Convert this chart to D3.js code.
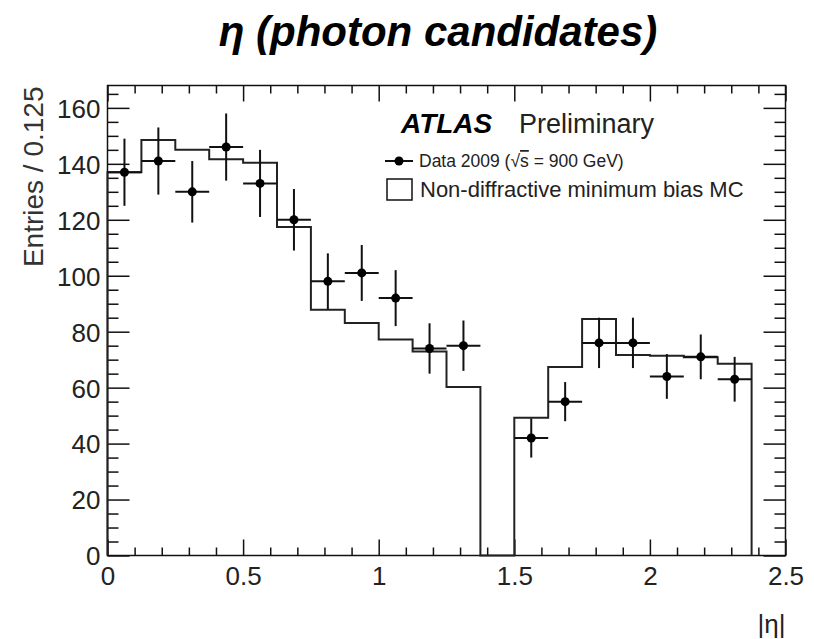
<!DOCTYPE html>
<html>
<head>
<meta charset="utf-8">
<script src="https://cdn.jsdelivr.net/npm/d3@7"></script>
<style>
  body { margin: 0; background: #fff; }
  svg { display: block; font-family: "Liberation Sans", Arial, sans-serif; }
  .axis path { display: none; }
  .axis line { stroke: #111; stroke-width: 1.5; }
  .axis text { fill: #222; font-size: 26px; }
</style>
</head>
<body>
<div id="chart"></div>
<script>
// lower edges of the |eta| bins (width 0.125)
const binLow = [0, 0.125, 0.25, 0.375, 0.5, 0.625, 0.75, 0.875, 1.0, 1.125,
  1.25, 1.375, 1.5, 1.625, 1.75, 1.875, 2.0, 2.125, 2.25];
const binWidth = 0.125;

// Data 2009 (null = crack region, no entries)
const dataCounts = [137, 141, 130, 146, 133, 120, 98, 101, 92, 74,
  75, null, 42, 55, 76, 76, 64, 71, 63];
const dataErrors = [12, 12, 11, 12, 12, 11, 10, 10, 10, 9,
  9, null, 7, 7, 9, 9, 8, 8, 8];

// Non-diffractive minimum bias MC
const mcCounts = [137, 148.5, 145, 141.6, 140.4, 117.4, 87.8, 83.1, 77.2, 72.9,
  60.2, 0, 49.2, 67.4, 84.5, 71.7, 71.4, 70.9, 68.5];

const yTicks = [0, 20, 40, 60, 80, 100, 120, 140, 160];
const xTicks = [0, 0.5, 1, 1.5, 2, 2.5];
const xTickLabels = ['0', '0.5', '1', '1.5', '2', '2.5'];

const width = 814;
const height = 639;
const frame = { left: 107.5, right: 785.5, top: 85.5, bottom: 555.5 };

const svg = d3.select('#chart').append('svg')
    .attr('width', width)
    .attr('height', height);

const x = d3.scaleLinear().domain([0, 2.5]).range([frame.left, frame.right]);
const y = d3.scaleLinear().domain([0, 168]).range([frame.bottom, frame.top]);

// minor tick positions
const yMinor = d3.range(0, 168, 5).filter((v) => v % 20 !== 0);
const xMinor = d3.range(0, 2.5001, 0.1).map((v) => +v.toFixed(2)).filter((v) => !xTicks.includes(v));

// AXES (ticks drawn inward, mirrored on top/right like ROOT)
const leftMajor = svg.append('g').attr('class', 'axis')
    .attr('transform', `translate(${frame.left},0)`)
    .call(d3.axisLeft(y).tickValues(yTicks).tickSize(-22).tickPadding(7).tickFormat(d3.format('d')));
leftMajor.selectAll('text').attr('dy', '0.36em');

svg.append('g').attr('class', 'axis')
    .attr('transform', `translate(${frame.left},0)`)
    .call(d3.axisLeft(y).tickValues(yMinor).tickSize(-11).tickFormat(''));

svg.append('g').attr('class', 'axis')
    .attr('transform', `translate(${frame.right},0)`)
    .call(d3.axisRight(y).tickValues(yTicks).tickSize(-22).tickFormat(''));
svg.append('g').attr('class', 'axis')
    .attr('transform', `translate(${frame.right},0)`)
    .call(d3.axisRight(y).tickValues(yMinor).tickSize(-11).tickFormat(''));

const bottomMajor = svg.append('g').attr('class', 'axis')
    .attr('transform', `translate(0,${frame.bottom})`)
    .call(d3.axisBottom(x).tickValues(xTicks).tickSize(-16).tickPadding(6)
      .tickFormat((d, i) => xTickLabels[i]));
bottomMajor.selectAll('text').attr('dy', '0.9em');

svg.append('g').attr('class', 'axis')
    .attr('transform', `translate(0,${frame.bottom})`)
    .call(d3.axisBottom(x).tickValues(xMinor).tickSize(-8).tickFormat(''));

svg.append('g').attr('class', 'axis')
    .attr('transform', `translate(0,${frame.top})`)
    .call(d3.axisTop(x).tickValues(xTicks).tickSize(-16).tickFormat(''));
svg.append('g').attr('class', 'axis')
    .attr('transform', `translate(0,${frame.top})`)
    .call(d3.axisTop(x).tickValues(xMinor).tickSize(-8).tickFormat(''));

// frame
svg.append('rect')
    .attr('x', frame.left).attr('y', frame.top)
    .attr('width', frame.right - frame.left)
    .attr('height', frame.bottom - frame.top)
    .attr('fill', 'none')
    .attr('stroke', '#111')
    .attr('stroke-width', 1.5);

// MC histogram as a step outline
const mcPoints = [[0, 0]];
mcCounts.forEach((v, i) => mcPoints.push([binLow[i], v]));
const lastEdge = binLow[binLow.length - 1] + binWidth;
mcPoints.push([lastEdge, mcCounts[mcCounts.length - 1]]);
mcPoints.push([lastEdge, 0]);

const step = d3.line()
    .x((d) => x(d[0]))
    .y((d) => y(d[1]))
    .curve(d3.curveStepAfter);

svg.append('path')
    .attr('d', step(mcPoints))
    .attr('fill', 'none')
    .attr('stroke', '#222')
    .attr('stroke-width', 2);

// data points with error bars
const pts = binLow.map((lo, i) => ({ lo, v: dataCounts[i], e: dataErrors[i] }))
    .filter((d) => d.v !== null);

const pg = svg.append('g').attr('class', 'data');
pg.selectAll('line.h').data(pts).enter().append('line')
    .attr('x1', (d) => x(d.lo)).attr('x2', (d) => x(d.lo + binWidth))
    .attr('y1', (d) => y(d.v)).attr('y2', (d) => y(d.v))
    .attr('stroke', '#111').attr('stroke-width', 2);
pg.selectAll('line.v').data(pts).enter().append('line')
    .attr('x1', (d) => x(d.lo + binWidth / 2)).attr('x2', (d) => x(d.lo + binWidth / 2))
    .attr('y1', (d) => y(d.v - d.e)).attr('y2', (d) => y(d.v + d.e))
    .attr('stroke', '#111').attr('stroke-width', 2);
pg.selectAll('circle').data(pts).enter().append('circle')
    .attr('cx', (d) => x(d.lo + binWidth / 2))
    .attr('cy', (d) => y(d.v))
    .attr('r', 4.5)
    .attr('fill', '#000');

// title and axis labels
svg.append('text')
    .attr('x', 438).attr('y', 46)
    .attr('text-anchor', 'middle')
    .style('font-size', '42px').style('font-weight', 'bold').style('font-style', 'italic')
    .text('η (photon candidates)');

svg.append('text')
    .attr('transform', `translate(43,${frame.top + 1}) rotate(-90)`)
    .attr('text-anchor', 'end')
    .style('font-size', '28px').style('fill', '#333')
    .text('Entries / 0.125');

svg.append('text')
    .attr('x', frame.right).attr('y', 633)
    .attr('text-anchor', 'end')
    .style('font-size', '26px').style('fill', '#222')
    .text('|η|');

// legend
const lg = svg.append('g').attr('class', 'legend');
lg.append('text')
    .attr('x', 401).attr('y', 133)
    .style('font-size', '28px').style('font-weight', 'bold').style('font-style', 'italic')
    .text('ATLAS');
lg.append('text')
    .attr('x', 519).attr('y', 133)
    .style('font-size', '27px').style('fill', '#222')
    .text('Preliminary');

lg.append('line')
    .attr('x1', 385).attr('x2', 413).attr('y1', 161).attr('y2', 161)
    .attr('stroke', '#111').attr('stroke-width', 2);
lg.append('circle').attr('cx', 399).attr('cy', 161).attr('r', 4.5).attr('fill', '#000');
const dataLab = lg.append('text')
    .attr('x', 419).attr('y', 167)
    .style('font-size', '17.5px').style('fill', '#222');
dataLab.append('tspan').text('Data 2009 (√');
dataLab.append('tspan').style('text-decoration', 'overline').text('s');
dataLab.append('tspan').text(' = 900 GeV)');

lg.append('rect')
    .attr('x', 387).attr('y', 179).attr('width', 25).attr('height', 21)
    .attr('fill', 'none').attr('stroke', '#111').attr('stroke-width', 1.5);
lg.append('text')
    .attr('x', 420).attr('y', 197)
    .style('font-size', '22px').style('fill', '#222')
    .text('Non-diffractive minimum bias MC');
</script>
</body>
</html>
